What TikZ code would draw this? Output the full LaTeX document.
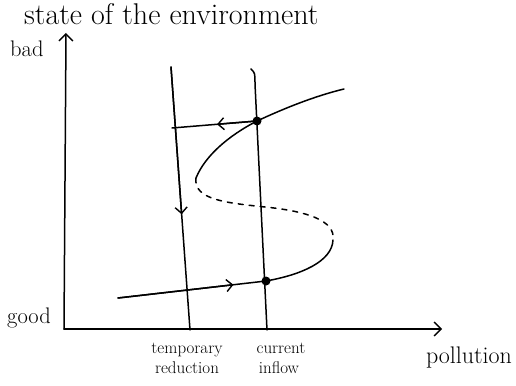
\documentclass[tikz,border=0pt]{standalone}
\usetikzlibrary{arrows.meta,calc}
\begin{document}
\begin{tikzpicture}[x=1pt,y=-1pt,
  ln/.style={line width=1.5pt,line cap=round,line join=round},
  dashln/.style={ln,dash pattern=on 5pt off 6pt},
  flow/.style={ln,-{Straight Barb[length=6pt,width=12pt,line width=1.4pt]}},
  axisarrow/.style={ln,-{Straight Barb[length=7pt,width=14pt,line width=1.4pt]}},
  dotnode/.style={circle,fill=black,inner sep=0pt,minimum size=9pt},
  bigtxt/.style={font=\fontsize{30}{32}\selectfont,inner sep=0pt},
  midtxt/.style={font=\fontsize{22.5}{24}\selectfont,inner sep=0pt},
  polltxt/.style={font=\fontsize{24}{26}\selectfont,inner sep=0pt},
  smalltxt/.style={font=\fontsize{17}{19}\selectfont,inner sep=0pt}]
\useasboundingbox (0,0) rectangle (516,385);
% axes
\coordinate (origin) at (64,329);
\coordinate (ytip) at (66,33);
\coordinate (xtip) at (442,329);
\draw[axisarrow] (origin) -- (ytip);
\draw[axisarrow] (origin) -- (xtip);
% vertical lines
\coordinate (l1top) at (171,67);
\coordinate (l1bot) at (190,330);
\coordinate (l2hook) at (251,69);
\coordinate (l2top) at (255,84);
\coordinate (l2bot) at (267,330);
\draw[ln] (l1top) -- (l1bot);
\draw[flow] (l1top) -- ($(l1top)!0.56!(l1bot)$);
\draw[ln] (l2hook) .. controls (255,73) .. (l2top) -- (l2bot);
% equilibrium dots
\node[dotnode] (upper) at (257,121) {};
\node[dotnode] (lower) at (266,281) {};
% S-curve
\coordinate (upend) at (344,89);
\coordinate (foldtop) at (196,178);
\coordinate (foldbot) at (333,240);
\coordinate (lowend) at (118,298);
\coordinate (l1cross) at (172,128);
\draw[ln] (upper.center) .. controls (285,108) and (315,96) .. (upend);
\draw[ln] (upper.center) .. controls (228,136) and (205,156) .. (foldtop);
\draw[dashln] (foldtop) .. controls (193,200) and (228,203) .. (265,207)
   .. controls (305,211) and (336,220) .. (foldbot);
\draw[ln] (foldbot) .. controls (332,262) and (300,275) .. (lower.center);
\draw[ln] (lowend) -- (lower.center);
\draw[flow] (lowend) -- ($(lowend)!0.78!(lower.center)$);
\draw[ln] (upper.center) -- (l1cross);
\draw[flow] (upper.center) -- ($(upper.center)!0.47!(l1cross)$);
% labels
\node[bigtxt,anchor=base west] (title) at (24,25) {state of the environment};
\node[midtxt,anchor=base west] (bad) at (10,57) {bad};
\node[midtxt,anchor=base west] (good) at (7,323) {good};
\node[smalltxt,anchor=base] (temp1) at (187,353) {temporary};
\node[smalltxt,anchor=base] (temp2) at (187,373) {reduction};
\node[smalltxt,anchor=base] (cur1) at (281,353) {current};
\node[smalltxt,anchor=base] (cur2) at (279,373) {inflow};
\node[polltxt,anchor=base] (poll) at (469,363) {pollution};
\end{tikzpicture}
\end{document}
